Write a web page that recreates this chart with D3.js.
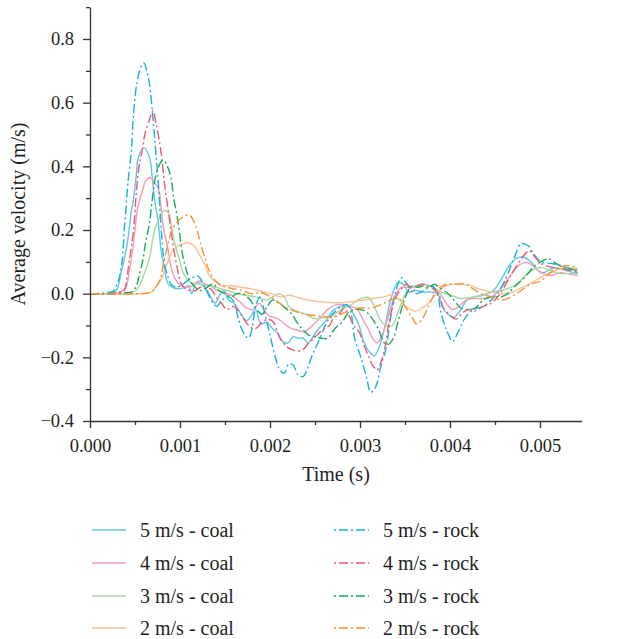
<!DOCTYPE html>
<html><head><meta charset="utf-8">
<script src="https://cdn.jsdelivr.net/npm/d3@7"></script>
<style>
body{margin:0;background:#fff;}
svg text{font-family:"Liberation Serif","DejaVu Serif",serif;fill:#231f20;}
</style>
</head><body>
<svg id="chart" width="625" height="639"></svg>
<script>
// ---------- data (time in s, velocity in m/s) ----------
const xMajorTicks = [0, 0.001, 0.002, 0.003, 0.004, 0.005];
const xMinorTicks = [0.0005, 0.0015, 0.0025, 0.0035, 0.0045];
const yMajorTicks = [-0.4, -0.2, 0.0, 0.2, 0.4, 0.6, 0.8];
const yMinorTicks = [-0.3, -0.1, 0.1, 0.3, 0.5, 0.7, 0.9];

const coal5 = [[0,0],[0.00018,0],[0.00023,0.004],[0.00029,0.01],[0.00032,0.03],[0.00034,0.06],[0.00039,0.12],[0.00042,0.17],[0.00046,0.26],[0.00048,0.29],[0.00051,0.36],[0.00054,0.43],[0.0006,0.458],[0.00066,0.43],[0.00069,0.37],[0.00072,0.29],[0.00076,0.22],[0.00079,0.135],[0.00082,0.09],[0.00087,0.03],[0.00092,0.02],[0.00098,0.015],[0.00104,0.018],[0.0011,0.025],[0.00113,0.0],[0.00118,0.035],[0.00123,0.03],[0.00129,0.015],[0.00134,-0.01],[0.00139,-0.03],[0.00144,-0.005],[0.00149,0.01],[0.00154,-0.02],[0.0016,-0.03],[0.00168,-0.065],[0.00174,-0.085],[0.0018,-0.065],[0.00184,-0.05],[0.0019,-0.095],[0.00196,-0.09],[0.00203,-0.11],[0.00209,-0.125],[0.00214,-0.15],[0.0022,-0.155],[0.00226,-0.135],[0.00231,-0.14],[0.00237,-0.14],[0.00242,-0.155],[0.00249,-0.13],[0.00254,-0.11],[0.00262,-0.085],[0.00271,-0.05],[0.00281,-0.04],[0.00288,-0.04],[0.00293,-0.065],[0.00299,-0.1],[0.00304,-0.15],[0.00311,-0.185],[0.00316,-0.195],[0.00321,-0.17],[0.00328,-0.1],[0.00333,-0.03],[0.00338,0.015],[0.00342,0.035],[0.00348,0.03],[0.00354,0.005],[0.00362,0.01],[0.0037,0.005],[0.00379,0.005],[0.00386,0.0],[0.00392,-0.045],[0.00398,-0.065],[0.00404,-0.075],[0.00411,-0.055],[0.00419,-0.02],[0.00428,-0.01],[0.00437,-0.005],[0.00448,0.01],[0.00457,0.045],[0.00464,0.08],[0.00473,0.11],[0.00481,0.115],[0.0049,0.1],[0.00498,0.072],[0.00504,0.066],[0.00514,0.08],[0.00523,0.078],[0.00532,0.07],[0.00542,0.063]];

const coal4 = [[0,0],[0.00026,0],[0.00034,0.005],[0.0004,0.02],[0.00043,0.06],[0.00047,0.13],[0.0005,0.2],[0.00053,0.27],[0.00058,0.32],[0.00062,0.355],[0.00067,0.365],[0.00071,0.35],[0.00076,0.33],[0.00079,0.27],[0.00082,0.2],[0.00086,0.15],[0.00089,0.1],[0.00092,0.065],[0.00096,0.04],[0.00101,0.025],[0.00108,0.02],[0.00114,0.025],[0.00121,0.04],[0.00128,0.03],[0.00134,0.025],[0.00141,0.01],[0.00147,0.005],[0.00153,0.0],[0.0016,-0.01],[0.00168,-0.03],[0.00174,-0.045],[0.00181,-0.05],[0.00188,-0.03],[0.00193,-0.05],[0.00199,-0.07],[0.00206,-0.075],[0.00212,-0.085],[0.00218,-0.1],[0.00224,-0.11],[0.00231,-0.115],[0.00238,-0.12],[0.00243,-0.11],[0.00249,-0.095],[0.00256,-0.075],[0.00264,-0.05],[0.00273,-0.035],[0.00282,-0.035],[0.0029,-0.04],[0.00297,-0.05],[0.00303,-0.08],[0.00309,-0.11],[0.00314,-0.14],[0.00319,-0.155],[0.00323,-0.14],[0.00329,-0.095],[0.00334,-0.045],[0.0034,0.0],[0.00346,0.02],[0.00353,0.02],[0.0036,0.02],[0.00368,0.03],[0.00376,0.025],[0.00382,0.02],[0.00389,0.0],[0.00396,-0.03],[0.00403,-0.05],[0.0041,-0.04],[0.00418,-0.02],[0.00427,-0.015],[0.00437,-0.015],[0.00446,-0.01],[0.00453,0.005],[0.0046,0.03],[0.00468,0.06],[0.00477,0.09],[0.00486,0.098],[0.00493,0.085],[0.00501,0.066],[0.00512,0.057],[0.00523,0.066],[0.00532,0.062],[0.00542,0.057]];

const coal3 = [[0,0],[0.00034,0],[0.00046,0.005],[0.00051,0.01],[0.00054,0.02],[0.0006,0.06],[0.00066,0.11],[0.00071,0.19],[0.00077,0.24],[0.00082,0.26],[0.00087,0.255],[0.0009,0.22],[0.00094,0.16],[0.00099,0.11],[0.00103,0.07],[0.00108,0.045],[0.00113,0.035],[0.0012,0.03],[0.00131,0.025],[0.00142,0.018],[0.00153,0.01],[0.00162,0.0],[0.00173,-0.005],[0.00184,-0.01],[0.00196,-0.02],[0.00203,-0.01],[0.0021,0.0],[0.00216,-0.01],[0.00221,-0.04],[0.0023,-0.055],[0.0024,-0.065],[0.00249,-0.078],[0.00259,-0.075],[0.00268,-0.07],[0.00279,-0.05],[0.0029,-0.035],[0.00301,-0.015],[0.00309,-0.012],[0.00316,-0.04],[0.00322,-0.08],[0.00329,-0.1],[0.00336,-0.1],[0.00342,-0.06],[0.00349,-0.01],[0.00356,0.02],[0.00363,0.025],[0.00372,0.03],[0.00381,0.02],[0.0039,0.005],[0.00401,-0.005],[0.00412,-0.015],[0.00423,-0.012],[0.00434,-0.005],[0.00446,0.005],[0.00457,0.01],[0.00468,0.02],[0.00476,0.035],[0.00483,0.055],[0.00492,0.075],[0.00501,0.082],[0.0051,0.075],[0.00519,0.065],[0.0053,0.063],[0.00542,0.066]];

const coal2 = [[0,0],[0.00057,0],[0.00068,0.005],[0.00073,0.02],[0.00079,0.045],[0.00083,0.075],[0.00088,0.11],[0.00093,0.14],[0.00101,0.155],[0.00109,0.16],[0.00116,0.15],[0.00121,0.125],[0.00127,0.095],[0.00132,0.06],[0.00138,0.04],[0.00146,0.025],[0.00157,0.025],[0.00168,0.02],[0.00179,0.015],[0.0019,0.008],[0.00201,0.0],[0.00212,-0.01],[0.00221,-0.005],[0.00231,-0.012],[0.00242,-0.02],[0.00254,-0.025],[0.00268,-0.028],[0.00281,-0.028],[0.00292,-0.025],[0.00303,-0.02],[0.00314,-0.015],[0.00326,-0.01],[0.00334,-0.005],[0.00342,-0.015],[0.00349,-0.035],[0.00356,-0.05],[0.00362,-0.055],[0.00369,-0.045],[0.00376,-0.03],[0.00382,-0.01],[0.0039,0.015],[0.00399,0.028],[0.0041,0.03],[0.00421,0.027],[0.00432,0.015],[0.00443,0.007],[0.00454,0.0],[0.00466,0.002],[0.00477,0.015],[0.00488,0.03],[0.00499,0.048],[0.00509,0.063],[0.00519,0.075],[0.0053,0.082],[0.00542,0.078]];

const rock5 = [[0,0],[0.0002,0.003],[0.00026,0.008],[0.0003,0.03],[0.00032,0.045],[0.00036,0.11],[0.00038,0.2],[0.0004,0.27],[0.00042,0.345],[0.00046,0.45],[0.00048,0.55],[0.00052,0.66],[0.00057,0.715],[0.0006,0.725],[0.00063,0.7],[0.00066,0.66],[0.0007,0.55],[0.00073,0.45],[0.00076,0.345],[0.00078,0.25],[0.0008,0.17],[0.00083,0.09],[0.00087,0.05],[0.0009,0.03],[0.00096,0.02],[0.00101,0.025],[0.00108,0.04],[0.00114,0.05],[0.0012,0.056],[0.00124,0.04],[0.00131,0.0],[0.00137,-0.03],[0.00141,-0.04],[0.00147,-0.02],[0.00153,-0.01],[0.0016,-0.025],[0.00164,-0.07],[0.0017,-0.12],[0.00176,-0.14],[0.0018,-0.11],[0.00184,-0.04],[0.00189,-0.01],[0.00194,-0.06],[0.002,-0.13],[0.00206,-0.2],[0.00211,-0.24],[0.00216,-0.25],[0.00221,-0.22],[0.00226,-0.225],[0.00231,-0.255],[0.00237,-0.26],[0.00241,-0.24],[0.00246,-0.2],[0.0025,-0.175],[0.00257,-0.13],[0.00263,-0.09],[0.00271,-0.06],[0.00279,-0.04],[0.00286,-0.035],[0.0029,-0.06],[0.00294,-0.14],[0.00301,-0.2],[0.00307,-0.26],[0.00312,-0.31],[0.00316,-0.3],[0.00319,-0.28],[0.00323,-0.23],[0.00329,-0.17],[0.00334,-0.075],[0.0034,0.01],[0.00346,0.05],[0.00351,0.035],[0.00357,0.01],[0.00363,0.0],[0.00371,0.01],[0.0038,0.025],[0.00386,0.0],[0.0039,-0.06],[0.00397,-0.12],[0.00403,-0.15],[0.00409,-0.12],[0.00416,-0.08],[0.00426,-0.05],[0.00437,-0.04],[0.00446,-0.02],[0.00457,0.02],[0.00464,0.06],[0.00471,0.11],[0.00479,0.157],[0.00487,0.15],[0.00493,0.125],[0.00501,0.1],[0.00512,0.095],[0.00521,0.09],[0.00531,0.08],[0.00542,0.065]];

const rock4 = [[0,0],[0.00023,0],[0.00032,0.005],[0.00038,0.01],[0.00041,0.05],[0.00044,0.11],[0.00048,0.19],[0.00051,0.3],[0.00054,0.39],[0.00058,0.45],[0.00061,0.5],[0.00066,0.545],[0.0007,0.575],[0.00073,0.54],[0.00077,0.48],[0.0008,0.42],[0.00083,0.34],[0.00087,0.26],[0.0009,0.2],[0.00093,0.14],[0.00097,0.08],[0.001,0.04],[0.00104,0.02],[0.00111,0.01],[0.00117,0.01],[0.00123,0.02],[0.00129,0.015],[0.00134,0.015],[0.0014,-0.01],[0.00146,-0.03],[0.00152,-0.05],[0.00159,-0.04],[0.00164,-0.05],[0.00171,-0.08],[0.00178,-0.105],[0.00184,-0.11],[0.00191,-0.09],[0.00198,-0.08],[0.00204,-0.09],[0.00211,-0.14],[0.00218,-0.165],[0.00224,-0.175],[0.00231,-0.18],[0.00237,-0.175],[0.00243,-0.155],[0.00249,-0.14],[0.00254,-0.125],[0.0026,-0.11],[0.00266,-0.1],[0.00271,-0.075],[0.00278,-0.06],[0.00282,-0.045],[0.00288,-0.07],[0.00293,-0.1],[0.00299,-0.12],[0.00304,-0.16],[0.0031,-0.2],[0.00314,-0.225],[0.00319,-0.24],[0.00322,-0.225],[0.00327,-0.18],[0.0033,-0.13],[0.00334,-0.065],[0.0034,-0.01],[0.00346,0.015],[0.00352,0.03],[0.00359,0.01],[0.00364,0.025],[0.00371,0.03],[0.00379,0.02],[0.00387,0.0],[0.00393,-0.045],[0.00401,-0.07],[0.00407,-0.08],[0.00412,-0.065],[0.0042,-0.05],[0.00427,-0.055],[0.00437,-0.04],[0.00446,-0.03],[0.00453,-0.01],[0.0046,0.02],[0.00468,0.06],[0.00476,0.095],[0.00482,0.12],[0.00488,0.135],[0.00493,0.12],[0.00501,0.095],[0.0051,0.085],[0.00519,0.08],[0.00529,0.075],[0.00542,0.07]];

const rock3 = [[0,0],[0.00029,0],[0.0004,0.003],[0.00046,0.005],[0.00051,0.02],[0.00054,0.05],[0.00059,0.11],[0.00062,0.165],[0.00066,0.22],[0.00069,0.29],[0.00073,0.37],[0.00078,0.41],[0.00081,0.42],[0.00086,0.4],[0.0009,0.365],[0.00093,0.3],[0.00097,0.24],[0.001,0.18],[0.00103,0.12],[0.00107,0.075],[0.00111,0.04],[0.00117,0.02],[0.00123,0.01],[0.0013,0.02],[0.00137,0.03],[0.00143,0.01],[0.0015,0.0],[0.00157,-0.01],[0.00163,0.0],[0.0017,0.0],[0.00178,-0.02],[0.00184,-0.045],[0.00191,-0.065],[0.00197,-0.04],[0.00203,-0.02],[0.0021,-0.03],[0.00217,-0.045],[0.00223,-0.06],[0.0023,-0.09],[0.00237,-0.115],[0.00243,-0.13],[0.0025,-0.135],[0.00257,-0.14],[0.00264,-0.14],[0.00272,-0.11],[0.0028,-0.09],[0.00287,-0.06],[0.00294,-0.05],[0.00301,-0.05],[0.00308,-0.06],[0.00314,-0.08],[0.00321,-0.115],[0.00327,-0.155],[0.00331,-0.16],[0.00337,-0.14],[0.00342,-0.09],[0.00348,-0.03],[0.00352,0.0],[0.00358,0.025],[0.00364,0.02],[0.00371,0.025],[0.00377,0.018],[0.00382,0.03],[0.0039,0.015],[0.00398,0.0],[0.00404,-0.02],[0.00412,-0.045],[0.0042,-0.05],[0.00428,-0.045],[0.00437,-0.02],[0.00446,-0.01],[0.00457,-0.01],[0.00464,0.0],[0.00471,0.02],[0.00479,0.04],[0.00487,0.065],[0.00493,0.085],[0.00501,0.1],[0.00509,0.11],[0.00518,0.095],[0.00527,0.08],[0.00534,0.078],[0.00542,0.072]];

const rock2 = [[0,0],[0.00057,0],[0.00068,0.005],[0.00073,0.02],[0.00078,0.045],[0.00082,0.1],[0.00087,0.16],[0.00091,0.2],[0.00097,0.225],[0.00103,0.24],[0.0011,0.248],[0.00114,0.235],[0.00119,0.2],[0.00123,0.155],[0.00128,0.11],[0.00132,0.075],[0.00138,0.045],[0.00144,0.03],[0.00152,0.02],[0.0016,0.015],[0.00169,0.01],[0.00179,0.0],[0.0019,0.003],[0.00198,-0.005],[0.00206,-0.02],[0.00216,-0.04],[0.00227,-0.055],[0.0024,-0.065],[0.00254,-0.07],[0.00268,-0.075],[0.00279,-0.065],[0.0029,-0.05],[0.00301,-0.045],[0.00312,-0.045],[0.00323,-0.035],[0.00334,-0.02],[0.00343,-0.015],[0.0035,-0.04],[0.00357,-0.07],[0.00363,-0.095],[0.00369,-0.08],[0.00376,-0.04],[0.00382,-0.005],[0.00389,0.02],[0.00397,0.03],[0.00407,0.03],[0.00417,0.03],[0.00426,0.015],[0.00434,0.0],[0.00446,-0.01],[0.00457,-0.02],[0.00468,-0.01],[0.00479,0.01],[0.0049,0.03],[0.00501,0.04],[0.00509,0.06],[0.00518,0.078],[0.00529,0.088],[0.00542,0.082]];

const seriesNames = ["5 m/s - coal","4 m/s - coal","3 m/s - coal","2 m/s - coal","5 m/s - rock","4 m/s - rock","3 m/s - rock","2 m/s - rock"];
const seriesData = [coal5, coal4, coal3, coal2, rock5, rock4, rock3, rock2];
const seriesColors = ["#62c6e8","#f59bb7","#a7d8a1","#fdbf92","#14b1e4","#ee5a6b","#1aaa5a","#f7913a"];
const seriesDashed = [false,false,false,false,true,true,true,true];

// ---------- chart ----------
const svg = d3.select("#chart");
const x = d3.scaleLinear().domain([0, 0.00546]).range([90, 581.4]);
const y = d3.scaleLinear().domain([-0.4, 0.9]).range([421, 7.17]);
const DASH = "9,3,2,3";
const AXC = "#333";

// lines
const line = d3.line().x(d => x(d[0])).y(d => y(d[1])).curve(d3.curveCatmullRom.alpha(0.5));
const gLines = svg.append("g");
seriesData.forEach((s, i) => {
  gLines.append("path").datum(s)
    .attr("d", line)
    .attr("fill", "none")
    .attr("stroke", seriesColors[i])
    .attr("stroke-width", 1.4)
    .attr("stroke-dasharray", seriesDashed[i] ? DASH : null);
});

// axes
const fmtX = d3.format(".3f"), fmtY = d3.format(".1f");
svg.append("g").attr("transform", "translate(0,421)")
  .call(d3.axisBottom(x).tickValues(xMajorTicks).tickSize(7).tickSizeOuter(0).tickPadding(11).tickFormat(fmtX));
svg.append("g").attr("transform", "translate(0,421)")
  .call(d3.axisBottom(x).tickValues(xMinorTicks).tickSize(4).tickSizeOuter(0).tickFormat(""))
  .select(".domain").remove();
svg.append("g").attr("transform", "translate(90,0)")
  .call(d3.axisLeft(y).tickValues(yMajorTicks).tickSize(7).tickSizeOuter(0).tickPadding(9).tickFormat(fmtY));
svg.append("g").attr("transform", "translate(90,0)")
  .call(d3.axisLeft(y).tickValues(yMinorTicks).tickSize(4).tickSizeOuter(0).tickFormat(""))
  .select(".domain").remove();

svg.selectAll(".domain, .tick line").attr("stroke", AXC).attr("stroke-width", 1.3);
svg.selectAll(".tick text").attr("font-size", 18.5).attr("font-family", null).attr("fill", "#231f20");

// axis titles
svg.append("text").attr("x", 336).attr("y", 481).attr("text-anchor", "middle")
  .attr("font-size", 20).text("Time (s)");
svg.append("text").attr("transform", "translate(25,214) rotate(-90)").attr("text-anchor", "middle")
  .attr("font-size", 20).text("Average velocity (m/s)");

// legend
const rowY = [530, 563, 596, 628];
const colLineX = [[92, 126], [334, 369]];
const colTextX = [140, 383];
seriesNames.forEach((name, i) => {
  const col = seriesDashed[i] ? 1 : 0, row = i % 4;
  svg.append("line")
    .attr("x1", colLineX[col][0]).attr("x2", colLineX[col][1])
    .attr("y1", rowY[row]).attr("y2", rowY[row])
    .attr("stroke", seriesColors[i]).attr("stroke-width", 1.4)
    .attr("stroke-dasharray", seriesDashed[i] ? DASH : null)
    .attr("stroke-dashoffset", seriesDashed[i] ? 12 : null);
  svg.append("text").attr("x", colTextX[col]).attr("y", rowY[row]).attr("dy", "0.35em")
    .attr("font-size", 20).text(name);
});
</script>
</body></html>
